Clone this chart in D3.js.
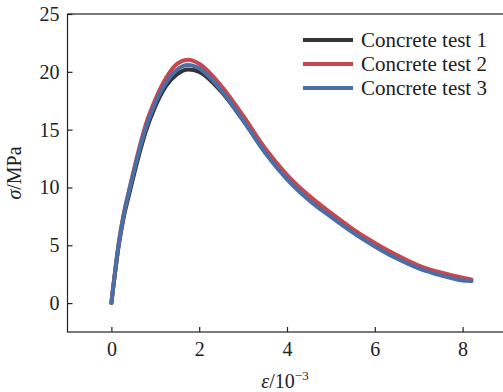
<!DOCTYPE html>
<html>
<head>
<meta charset="utf-8">
<script src="https://cdn.jsdelivr.net/npm/d3@7"></script>
<style>
  body { margin: 0; background: #fff; }
  text { font-family: "Liberation Serif", "Times New Roman", serif; fill: #222; }
</style>
</head>
<body>
<div class="chart"></div>
<script>
// Stress-strain curves of three concrete tests

var svgWidth = 503;
var svgHeight = 392;

// strain (x 10^-3), shared by all three tests
var strain = [0, 0.04, 0.08, 0.16, 0.28, 0.43, 0.6, 0.78, 1.0, 1.25, 1.5, 1.75, 2.0, 2.5, 3.0, 3.5, 4.0, 4.5, 5.0, 5.5, 6.0, 6.5, 7.0, 7.5, 8.0, 8.2];

// stress (MPa)
var test1 = [0, 1.3, 2.5, 4.8, 7.4, 9.8, 12.4, 14.8, 17.0, 18.8, 19.8, 20.2, 20.0, 18.3, 15.8, 13.1, 10.9, 9.1, 7.6, 6.2, 5.0, 3.95, 3.05, 2.5, 2.1, 1.95];
var test2 = [0, 1.35, 2.6, 5.0, 7.7, 10.2, 12.9, 15.4, 17.6, 19.5, 20.7, 21.05, 20.7, 18.8, 16.2, 13.4, 11.1, 9.3, 7.8, 6.4, 5.2, 4.15, 3.25, 2.65, 2.2, 2.05];
var test3 = [0, 1.35, 2.6, 4.95, 7.6, 10.1, 12.7, 15.1, 17.3, 19.1, 20.2, 20.6, 20.3, 18.4, 15.8, 13.0, 10.7, 8.9, 7.45, 6.1, 4.9, 3.85, 3.0, 2.4, 1.95, 1.9];

var seriesNames = ["Concrete test 1", "Concrete test 2", "Concrete test 3"];
var seriesColors = ["#353535", "#c8464f", "#4a6ea6"];
var seriesValues = [test1, test2, test3];

var xTicks = [0, 2, 4, 6, 8];
var yTicks = [0, 5, 10, 15, 20, 25];

var plot = { left: 67.5, right: 506.5, top: 14, bottom: 332 };

var svg = d3.select(".chart")
  .append("svg")
  .attr("width", svgWidth)
  .attr("height", svgHeight);

var x = d3.scaleLinear().domain([-1, 9]).range([plot.left, plot.right]);
var y = d3.scaleLinear().domain([-2.5, 25]).range([plot.bottom, plot.top]);

// frame
svg.append("rect")
  .attr("x", plot.left)
  .attr("y", plot.top)
  .attr("width", plot.right - plot.left)
  .attr("height", plot.bottom - plot.top)
  .attr("fill", "none")
  .attr("stroke", "#222")
  .attr("stroke-width", 1.2);

var line = d3.line()
  .x(function(d) { return x(d[0]); })
  .y(function(d) { return y(d[1]); })
  .curve(d3.curveMonotoneX);

seriesValues.forEach(function(vals, i) {
  var pts = strain.map(function(s, j) { return [s, vals[j]]; });
  svg.append("path")
    .datum(pts)
    .attr("d", line)
    .attr("fill", "none")
    .attr("stroke", seriesColors[i])
    .attr("stroke-width", 4)
    .attr("stroke-linecap", "round");
});

// axes with inward ticks
var xAxis = svg.append("g")
  .attr("transform", "translate(0," + plot.bottom + ")")
  .call(d3.axisBottom(x).tickValues(xTicks).tickSizeInner(-5).tickSizeOuter(0).tickPadding(10));

var yAxis = svg.append("g")
  .attr("transform", "translate(" + plot.left + ",0)")
  .call(d3.axisLeft(y).tickValues(yTicks).tickSizeInner(-5).tickSizeOuter(0).tickPadding(8));

[xAxis, yAxis].forEach(function(g) {
  g.select(".domain").remove();
  g.selectAll(".tick line").attr("stroke", "#222").attr("stroke-width", 1.2);
  g.selectAll(".tick text")
    .attr("fill", "#222")
    .style("font-size", "20px")
    .style("font-family", "'Liberation Serif', 'Times New Roman', serif");
});

// axis labels
var xl = svg.append("text")
  .attr("x", 285)
  .attr("y", 388)
  .attr("text-anchor", "middle")
  .style("font-size", "20px");
xl.append("tspan").style("font-style", "italic").text("ε");
xl.append("tspan").text("/10");
xl.append("tspan").attr("dy", -8).style("font-size", "13px").text("−3");

var yl = svg.append("text")
  .attr("transform", "translate(21,173) rotate(-90)")
  .attr("text-anchor", "middle")
  .style("font-size", "20px");
yl.append("tspan").style("font-style", "italic").text("σ");
yl.append("tspan").text("/MPa");

// legend
var legend = svg.append("g");
seriesNames.forEach(function(name, i) {
  var ly = 40 + i * 24;
  legend.append("line")
    .attr("x1", 303).attr("x2", 353)
    .attr("y1", ly).attr("y2", ly)
    .attr("stroke", seriesColors[i])
    .attr("stroke-width", 4);
  legend.append("text")
    .attr("x", 361)
    .attr("y", ly + 7)
    .style("font-size", "21px")
    .text(name);
});
</script>
</body>
</html>
